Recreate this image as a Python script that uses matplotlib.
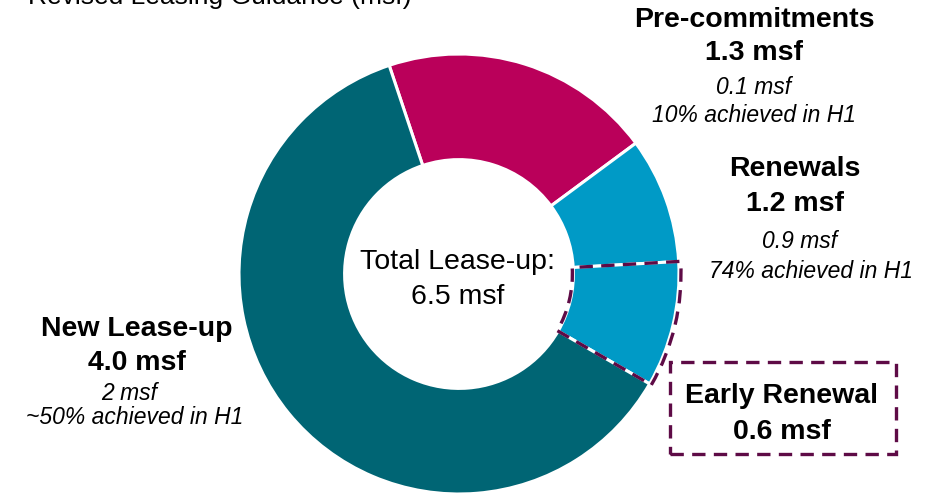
import numpy as np
import matplotlib.pyplot as plt
from matplotlib.patches import Wedge, Rectangle

plt.rcParams['font.family'] = ['Liberation Sans', 'DejaVu Sans']

# segments, clockwise from the top
segments = ["Pre-commitments", "Renewals", "Early Renewal", "New Lease-up"]
values = [1.3, 0.6, 0.6, 4.0]
colors = ["#BA005A", "#009AC6", "#009AC6", "#006574"]
total = 6.5
outline = "#5E0B46"

W, H = 937, 496
fig = plt.figure(figsize=(W/100, H/100), dpi=100)
ax = fig.add_axes([0, 0, 1, 1])

cx, cy, R = 459, H-274, 220
ring = 0.48
start = 108.5

wedges, _ = ax.pie(values, colors=colors, startangle=start, counterclock=False,
                   radius=R, center=(cx, cy),
                   wedgeprops=dict(width=R*ring, edgecolor='white', linewidth=2.2))

# dashed outline round the early renewal part
a1 = start - 360*sum(values[:2])/sum(values)
a2 = start - 360*sum(values[:3])/sum(values)
ax.add_patch(Wedge((cx, cy), R+2, a2, a1, width=R*ring+3, fill=False,
                   edgecolor=outline, lw=2.4, ls=(0, (4, 2.5)), zorder=5))
ax.add_patch(Rectangle((670, H-454), 226, 92, fill=False, edgecolor=outline,
                       lw=2.4, ls=(0, (4, 2.5)), zorder=5))

ax.set_xlim(0, W)
ax.set_ylim(0, H)
ax.set_aspect('equal')
ax.axis('off')

bold = dict(fontsize=20.5, fontweight='bold', ha='center', va='center')
ital = dict(fontsize=16.5, fontstyle='italic', ha='center', va='center')
reg = dict(fontsize=20.5, ha='center', va='center')

ax.text(28, H-4, "Revised Leasing Guidance (msf)", fontsize=19, ha='left', va='baseline')

ax.text(754, H-20, "Pre-commitments", **bold)
ax.text(754, H-53, "%.1f msf" % values[0], **bold)
ax.text(754, H-87, "0.1 msf", **ital)
ax.text(754, H-116, "10% achieved in H1", **ital)

ax.text(795, H-169, "Renewals", **bold)
ax.text(795, H-204, "%.1f msf" % (values[1]+values[2]), **bold)
ax.text(800, H-242, "0.9 msf", **ital)
ax.text(811, H-271, "74% achieved in H1", **ital)

ax.text(137, H-329, "New Lease-up", **bold)
ax.text(137, H-363, "%.1f msf" % values[3], **bold)
ax.text(129, H-393, "2 msf", **ital)
ax.text(135, H-418, "~50% achieved in H1", **ital)

ax.text(458, H-262, "Total Lease-up:", **reg)
ax.text(458, H-297, "%.1f msf" % total, **reg)

ax.text(782, H-396, "Early Renewal", **bold)
ax.text(782, H-432, "%.1f msf" % values[2], **bold)

fig.savefig("out.png", dpi=100)
